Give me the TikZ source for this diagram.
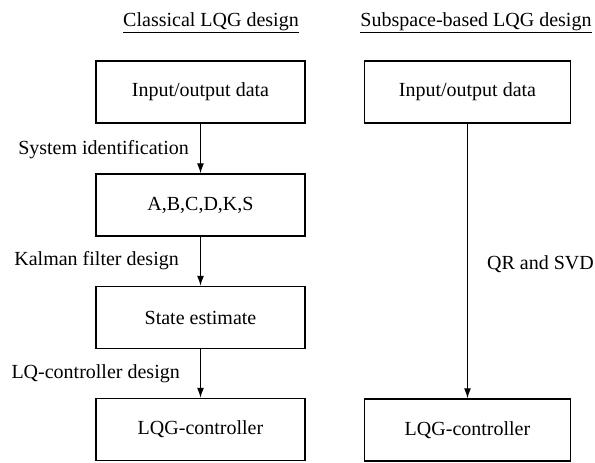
\documentclass[tikz,border=0pt]{standalone}
\usepackage{fontspec}
\setmainfont{Liberation Serif}
\usetikzlibrary{arrows.meta}
\begin{document}
\begin{tikzpicture}[x=1pt,y=-1pt,
    box/.style={draw, line width=1.4pt, minimum width=209pt, minimum height=62pt,
      font=\fontsize{20}{24}\selectfont},
    rbox/.style={box, minimum width=206pt},
    lbl/.style={inner sep=0pt, font=\fontsize{20}{24}\selectfont},
    arr/.style={line width=1.2pt, -{Latex[length=10pt,width=7pt]}}]
    \useasboundingbox (0,0) rectangle (595,463);

    % column titles
    \node [lbl, anchor=base] (titleL) at (211,26) {\underline{Classical LQG design}};
    \node [lbl, anchor=base] (titleR) at (476,26) {\underline{Subspace-based LQG design}};

    % classical path
    \node [box] (dataL) at (200.5,92) {Input/output data};
    \node [box] (model) at (200.5,205) {A,B,C,D,K,S};
    \node [box] (state) at (200.5,317.5) {State estimate};
    \node [box] (ctrlL) at (200.5,429.5) {LQG-controller};

    \draw [arr] (dataL) -- (model);
    \draw [arr] (model) -- (state);
    \draw [arr] (state) -- (ctrlL);

    \node [lbl, anchor=east] (ident) at (189,150) {System identification};
    \node [lbl, anchor=east] (kalman) at (179,261) {Kalman filter design};
    \node [lbl, anchor=east] (lqdes) at (180,374) {LQ-controller design};

    % subspace path
    \node [rbox] (dataR) at (467.5,92) {Input/output data};
    \node [rbox] (ctrlR) at (467.5,430) {LQG-controller};

    \draw [arr] (dataR) -- (ctrlR);
    \node [lbl, anchor=west] (qrsvd) at (487,264) {QR and SVD};
\end{tikzpicture}
\end{document}
